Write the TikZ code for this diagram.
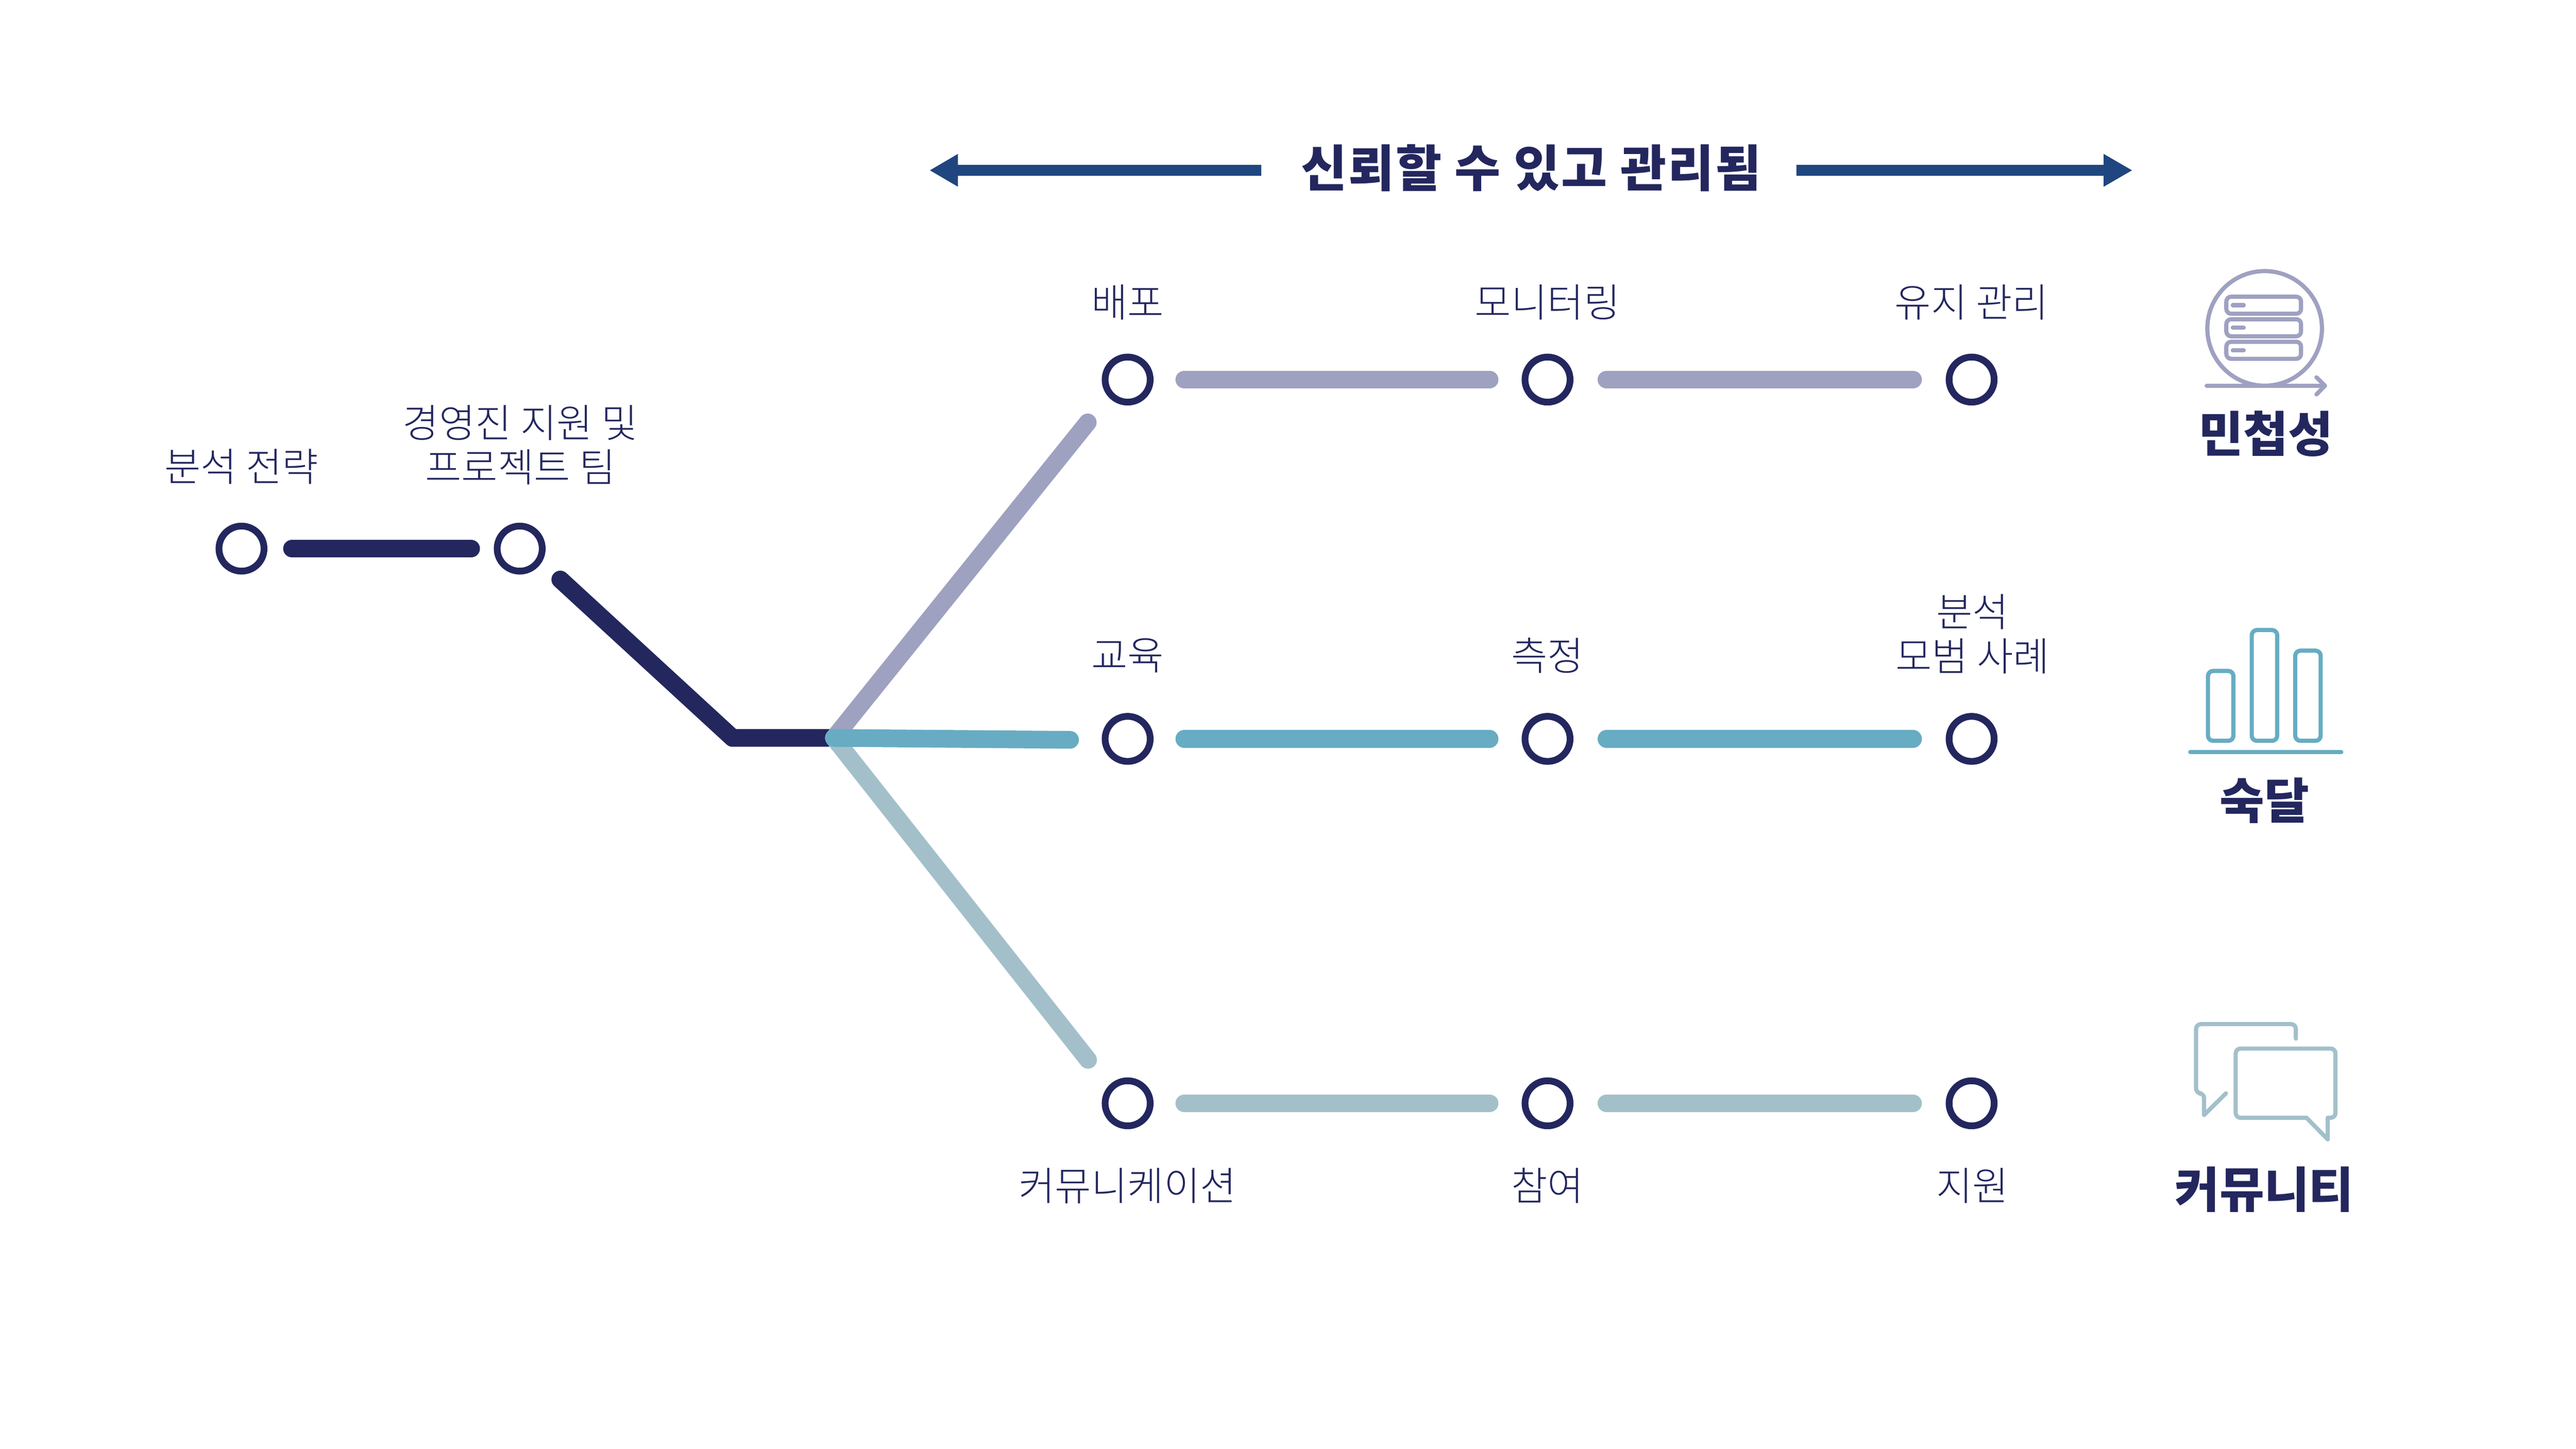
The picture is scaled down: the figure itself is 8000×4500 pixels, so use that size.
\documentclass[tikz,border=0pt]{standalone}
\usepackage{fontspec}
\setmainfont{Noto Sans CJK KR}
\newfontfamily\lightkr{Noto Sans CJK KR Light}
\definecolor{navy}{HTML}{23275E}
\definecolor{arrowblue}{HTML}{20467F}
\definecolor{lav}{HTML}{9FA1C1}
\definecolor{teal}{HTML}{67ACC3}
\definecolor{mist}{HTML}{A3C0CA}
\tikzset{
  x=0.1pt,y=-0.1pt,
  stop/.style={circle,draw=navy,line width=2.1pt,fill=white,minimum size=14pt,inner sep=0pt,outer sep=0pt},
  seg/.style={line width=5.5pt,line cap=round,line join=round},
  lbl/.style={text=navy,font=\fontsize{12.25}{13.7}\selectfont\lightkr,align=center,inner sep=0pt},
  cat/.style={text=navy,font=\fontsize{15.1}{16}\selectfont\bfseries,align=center,inner sep=0pt},
  icon/.style={line width=1.3pt,line cap=round,line join=round},
}
\begin{document}
\begin{tikzpicture}
\useasboundingbox (0,0) rectangle (8000,4500);
% stops
\node[stop] (a1) at (750,1704) {};
\node[stop] (a2) at (1614,1704) {};
\node[stop] (d1) at (3502,1179) {};
\node[stop] (d2) at (4806,1179) {};
\node[stop] (d3) at (6123,1179) {};
\node[stop] (e1) at (3502,2295) {};
\node[stop] (e2) at (4806,2295) {};
\node[stop] (e3) at (6123,2295) {};
\node[stop] (c1) at (3502,3427) {};
\node[stop] (c2) at (4806,3427) {};
\node[stop] (c3) at (6123,3427) {};
\coordinate (j) at (2590,2292);
\coordinate (bend) at (2275,2292);
% connectors
\draw[seg,navy] ([shift={(157,0)}]a1.center) -- ([shift={(-151,0)}]a2.center);
\draw[seg,navy] ([shift={(126,96)}]a2.center) -- (bend) -- (j);
\draw[seg,lav] (j) -- ([shift={(-124,133)}]d1.center);
\draw[seg,mist] (j) -- ([shift={(-123,-135)}]c1.center);
\draw[seg,teal] (j) -- ([shift={(-179,3)}]e1.center);
\draw[seg,lav] ([shift={(176,0)}]d1.center) -- ([shift={(-180,0)}]d2.center);
\draw[seg,lav] ([shift={(183,0)}]d2.center) -- ([shift={(-182,0)}]d3.center);
\draw[seg,teal] ([shift={(176,0)}]e1.center) -- ([shift={(-180,0)}]e2.center);
\draw[seg,teal] ([shift={(183,0)}]e2.center) -- ([shift={(-182,0)}]e3.center);
\draw[seg,mist] ([shift={(176,0)}]c1.center) -- ([shift={(-180,0)}]c2.center);
\draw[seg,mist] ([shift={(183,0)}]c2.center) -- ([shift={(-182,0)}]c3.center);
% stop labels
\node[lbl] (la1) at (750,1450) {분석 전략};
\node[lbl] (la2) at (1616,1382) {경영진 지원 및\\프로젝트 팀};
\node[lbl] (ld1) at (3502,939) {배포};
\node[lbl] (ld2) at (4806,939) {모니터링};
\node[lbl] (ld3) at (6123,939) {유지 관리};
\node[lbl] (le1) at (3502,2036) {교육};
\node[lbl] (le2) at (4806,2036) {측정};
\node[lbl] (le3) at (6126,1969) {분석\\모범 사례};
\node[lbl] (lc1) at (3502,3683) {커뮤니케이션};
\node[lbl] (lc2) at (4806,3683) {참여};
\node[lbl] (lc3) at (6126,3683) {지원};
% category labels
\node[cat] (k1) at (7037,1347) {민첩성};
\node[cat] (k2) at (7033,2486) {숙달};
\node[cat] (k3) at (7032,3695) {커뮤니티};
% title and arrows
\node[cat,font=\fontsize{15.5}{16}\selectfont\bfseries\addfontfeature{LetterSpace=3.2}] (title) at (4755,522) {신뢰할 수 있고 관리됨};
\coordinate (arL) at (3917,529);
\coordinate (arR) at (5579,529);
\fill[arrowblue] (arL) ++(0,-17) -- ++(-942,0) -- ++(0,-34) -- ++(-87,51) -- ++(87,51) -- ++(0,-34) -- ++(942,0) -- cycle;
\fill[arrowblue] (arR) ++(0,-17) -- ++(954,0) -- ++(0,-34) -- ++(88,51) -- ++(-88,51) -- ++(0,-34) -- ++(-954,0) -- cycle;
% agility icon
\draw[icon,lav] (7033,1020) circle (178);
\foreach \y in {915,985,1055}{
  \draw[icon,lav,rounded corners=1.5pt] (6914,\y+6.5) rectangle (7146,\y+59.5);
  \draw[icon,lav] (6934,\y+33) -- (6968,\y+33);
}
\draw[icon,lav] (6853,1198) -- (7220,1198);
\draw[icon,lav] (7194,1172) -- (7220,1198) -- (7194,1225);
% mastery icon
\draw[icon,teal,rounded corners=1.6pt] (6857,2084) rectangle (6936,2301);
\draw[icon,teal,rounded corners=1.6pt] (6993,1957) rectangle (7072,2301);
\draw[icon,teal,rounded corners=1.6pt] (7128,2021) rectangle (7207,2301);
\draw[icon,teal] (6802,2336) -- (7271,2336);
% community icon
\draw[icon,mist,rounded corners=1.5pt] (7130,3226) -- (7130,3181) -- (6820,3181) -- (6820,3396) -- (6845,3396) -- (6845,3463);
\draw[icon,mist] (6845,3463) -- (6913,3396);
\draw[icon,mist,rounded corners=1.5pt] (7163,3472) -- (6943,3472) -- (6943,3257) -- (7253,3257) -- (7253,3472) -- (7229,3472);
\draw[icon,mist] (7163,3472) -- (7229,3539) -- (7229,3472);
\end{tikzpicture}
\end{document}
